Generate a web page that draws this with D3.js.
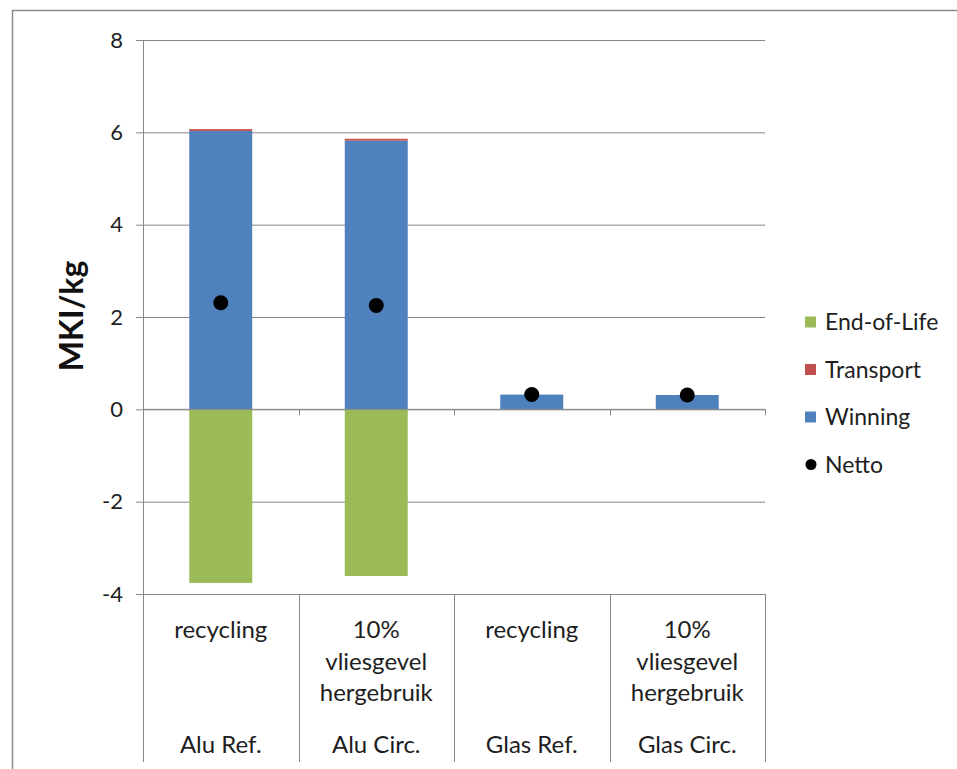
<!DOCTYPE html>
<html>
<head>
<meta charset="utf-8">
<script src="https://cdn.jsdelivr.net/npm/d3@7"></script>
<style>
  html, body { margin: 0; padding: 0; background: #fff; }
  svg { display: block; font-family: Lato, "Open Sans", sans-serif; }
</style>
</head>
<body>
<svg id="chart" width="957" height="769"></svg>
<script>
// Scenario groups and their sub-labels (multi-level category axis)
const groups = ["Alu Ref.", "Alu Circ.", "Glas Ref.", "Glas Circ."];
const scenarios = [
  ["recycling"],
  ["10%", "vliesgevel", "hergebruik"],
  ["recycling"],
  ["10%", "vliesgevel", "hergebruik"]
];

// Environmental cost (MKI per kg) by life-cycle phase
const winning   = [6.03, 5.82, 0.32, 0.31];
const transport = [0.04, 0.04, 0, 0];
const endOfLife = [-3.76, -3.61, 0, 0];
const netto     = [2.31, 2.25, 0.32, 0.31];

const yTicks = [-4, -2, 0, 2, 4, 6, 8];

const seriesColors = { "End-of-Life": "#9BBB59", "Transport": "#C0504D", "Winning": "#4F81BD" };

const svg = d3.select("#chart");
const gridColor = "#878787";
const textColor = "#1e1e1e";

const x = d3.scaleBand().domain(groups).range([143, 765]).paddingInner(0).paddingOuter(0);
const y = d3.scaleLinear().domain([-4, 8]).range([594, 40]);
const barW = x.bandwidth() * 0.405;

// outer chart frame
svg.append("path")
  .attr("d", "M12.5,800 V10.5 H1000")
  .attr("fill", "none").attr("stroke", "#8a8a8a").attr("stroke-width", 1.5);

// horizontal gridlines with left ticks
const yAxis = d3.axisLeft(y).tickValues(yTicks).tickSize(-(765 - 143)).tickSizeOuter(0).tickPadding(20)
  .tickFormat(d => d < 0 ? "-" + Math.abs(d) : d);
const gy = svg.append("g").attr("transform", "translate(143,0)").call(yAxis);
gy.select(".domain").remove();
gy.selectAll(".tick line").attr("stroke", gridColor).attr("x1", -7);
gy.selectAll(".tick text").attr("font-size", 22).attr("fill", textColor).attr("font-family", "Lato, sans-serif");

// vertical axis line (continues into category label area)
svg.append("line").attr("x1", 143.5).attr("x2", 143.5).attr("y1", 40).attr("y2", 762)
  .attr("stroke", gridColor);

// category separators below the plot and tick marks on the zero line
const bounds = groups.map(g => x(g) + x.bandwidth());
svg.selectAll("line.sep").data(bounds).enter().append("line")
  .attr("class", "sep")
  .attr("x1", d => Math.round(d) + 0.5).attr("x2", d => Math.round(d) + 0.5)
  .attr("y1", 594).attr("y2", 762)
  .attr("stroke", gridColor);
svg.selectAll("line.zt").data(bounds).enter().append("line")
  .attr("class", "zt")
  .attr("x1", d => Math.round(d) + 0.5).attr("x2", d => Math.round(d) + 0.5)
  .attr("y1", y(0)).attr("y2", y(0) + 6)
  .attr("stroke", gridColor);

// stacked bars: Winning first, Transport on top of it, End-of-Life below zero
const rows = groups.map((g, i) => ({
  group: g,
  "End-of-Life": endOfLife[i],
  "Transport": transport[i],
  "Winning": winning[i]
}));
const stack = d3.stack().keys(["Winning", "Transport", "End-of-Life"]).offset(d3.stackOffsetDiverging);
const layers = stack(rows);
svg.append("g").selectAll("g").data(layers).enter().append("g")
  .attr("fill", d => seriesColors[d.key])
  .selectAll("rect").data(d => d).enter().append("rect")
  .attr("x", d => x(d.data.group) + (x.bandwidth() - barW) / 2)
  .attr("width", barW)
  .attr("y", d => y(Math.max(d[0], d[1])))
  .attr("height", d => Math.abs(y(d[0]) - y(d[1])));

// zero axis line above bars
svg.append("line").attr("x1", 143).attr("x2", 765).attr("y1", y(0)).attr("y2", y(0))
  .attr("stroke", gridColor);

// netto markers
svg.append("g").selectAll("circle").data(netto).enter().append("circle")
  .attr("cx", (d, i) => x(groups[i]) + x.bandwidth() / 2)
  .attr("cy", d => y(d))
  .attr("r", 7.5)
  .attr("fill", "#000");

// category labels: scenario row then group row
const labels = svg.append("g").attr("font-size", 24).attr("fill", textColor).attr("text-anchor", "middle");
groups.forEach((g, i) => {
  const cx = x(g) + x.bandwidth() / 2;
  scenarios[i].forEach((s, j) => {
    labels.append("text").attr("x", cx).attr("y", 638 + j * 31.5).text(s);
  });
  labels.append("text").attr("x", cx).attr("y", 753).text(g);
});

// y axis title
svg.append("text")
  .attr("transform", "translate(83,316) rotate(-90)")
  .attr("text-anchor", "middle")
  .attr("font-size", 32).attr("font-weight", "bold").attr("fill", "#111")
  .text("MKI/kg");

// legend
const legendItems = ["End-of-Life", "Transport", "Winning", "Netto"];
const lg = svg.append("g").attr("font-size", 23).attr("fill", textColor);
legendItems.forEach((name, i) => {
  const cy = 322 + i * 47.5;
  if (name === "Netto") {
    lg.append("circle").attr("cx", 811).attr("cy", cy).attr("r", 5.5).attr("fill", "#000");
  } else {
    lg.append("rect").attr("x", 805).attr("y", cy - 5.5).attr("width", 11).attr("height", 11)
      .attr("fill", seriesColors[name]);
  }
  lg.append("text").attr("x", 825).attr("y", cy).attr("dy", "0.36em").text(name);
});
</script>
</body>
</html>
